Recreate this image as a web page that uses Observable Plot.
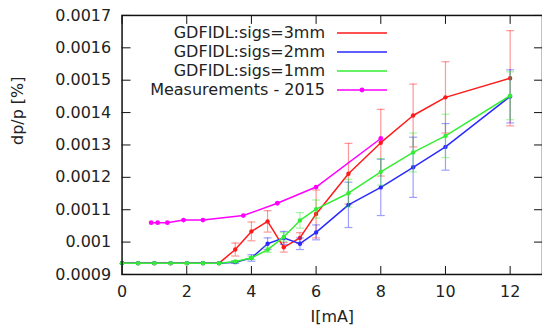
<!DOCTYPE html>
<html>
<head>
<meta charset="utf-8">
<script src="https://cdn.jsdelivr.net/npm/d3@7"></script>
<script src="https://cdn.jsdelivr.net/npm/@observablehq/plot@0.6"></script>
<style>
  html, body { margin: 0; padding: 0; background: #fff; overflow: hidden; }
  #wrap { position: relative; width: 542px; height: 333px; overflow: hidden; font-family: "DejaVu Sans", sans-serif; }
  .leg { position: absolute; font-size: 16px; color: #222; white-space: nowrap; line-height: 20px; }
</style>
</head>
<body>
<div id="wrap"></div>
<script>
// ---- data ----
const currentX = [0, 0.5, 1, 1.5, 2, 2.5, 3, 3.5, 4, 4.5, 5, 5.5, 6, 7, 8, 9, 10, 12];
const sigs3 = [0.000935, 0.000935, 0.000935, 0.000935, 0.000935, 0.000935, 0.000935, 0.000977, 0.001033, 0.001064, 0.000984, 0.001013, 0.001087, 0.001211, 0.001307, 0.001391, 0.001447, 0.001506];
const sigs3Err = [0, 0, 0, 0, 0, 0, 0, 0.00002, 0.000029, 0.000033, 0.000015, 0.000016, 0.000074, 0.000094, 0.000103, 0.000097, 0.00011, 0.000147];
const sigs2 = [0.000935, 0.000935, 0.000935, 0.000935, 0.000935, 0.000935, 0.000935, 0.000938, 0.000951, 0.000995, 0.001013, 0.000995, 0.00103, 0.001115, 0.001169, 0.001231, 0.001294, 0.00145];
const sigs2Err = [0, 0, 0, 0, 0, 0, 0, 0.000004, 0.00001, 0.000018, 0.00002, 0.000018, 0.000023, 0.00007, 0.000087, 0.000093, 0.000072, 0.000082];
const sigs1 = [0.000935, 0.000935, 0.000935, 0.000935, 0.000935, 0.000935, 0.000935, 0.00094, 0.000951, 0.000976, 0.001016, 0.001067, 0.001102, 0.001151, 0.001217, 0.001277, 0.001328, 0.001452];
const sigs1Err = [0, 0, 0, 0, 0, 0, 0, 0.000003, 0.000005, 0.000008, 0.000013, 0.000024, 0.000028, 0.000043, 0.000041, 0.00006, 0.000067, 0.000074];
const measX = [0.9, 1.1, 1.4, 1.9, 2.5, 3.75, 4.8, 6, 8];
const measY = [0.00106, 0.00106, 0.00106, 0.001068, 0.001068, 0.001082, 0.00112, 0.00117, 0.00132];
const xTicks = [0, 2, 4, 6, 8, 10, 12];
const yTicks = [0.0009, 0.001, 0.0011, 0.0012, 0.0013, 0.0014, 0.0015, 0.0016, 0.0017];
const seriesNames = ["GDFIDL:sigs=3mm", "GDFIDL:sigs=2mm", "GDFIDL:sigs=1mm", "Measurements - 2015"];
const seriesColors = ["#ff1a1a", "#2a2aff", "#33ee33", "#ff00ff"];

// ---- build tables ----
const sim = [
  {vals: sigs3, errs: sigs3Err},
  {vals: sigs2, errs: sigs2Err},
  {vals: sigs1, errs: sigs1Err}
].map((s, i) => currentX.map((x, j) => ({x, y: s.vals[j], e: s.errs[j], name: seriesNames[i]})));
const meas = measX.map((x, j) => ({x, y: measY[j], name: seriesNames[3]}));

const capSymbol = {
  draw(context, size) {
    const h = Math.sqrt(size / Math.PI);
    context.moveTo(-h, 0);
    context.lineTo(h, 0);
  }
};

const marks = [];
sim.forEach((rows, i) => {
  const c = seriesColors[i];
  const withErr = rows.filter(d => d.e > 0);
  marks.push(
    Plot.ruleX(withErr, {x: "x", y1: d => d.y - d.e, y2: d => d.y + d.e, stroke: c, strokeOpacity: 0.45, strokeWidth: 1.2}),
    Plot.dot(withErr, {x: "x", y: d => d.y - d.e, symbol: capSymbol, r: 4, stroke: c, strokeOpacity: 0.45, strokeWidth: 1.2, fill: "none"}),
    Plot.dot(withErr, {x: "x", y: d => d.y + d.e, symbol: capSymbol, r: 4, stroke: c, strokeOpacity: 0.45, strokeWidth: 1.2, fill: "none"}),
    Plot.line(rows, {x: "x", y: "y", stroke: c, strokeWidth: 1.5}),
    Plot.dot(rows, {x: "x", y: "y", r: 2.2, fill: c, stroke: "none"})
  );
});
marks.push(
  Plot.line(meas, {x: "x", y: "y", stroke: seriesColors[3], strokeWidth: 1.5}),
  Plot.dot(meas, {x: "x", y: "y", r: 2.4, fill: seriesColors[3], stroke: "none"})
);

const chart = Plot.plot({
  width: 544,
  height: 333,
  marginLeft: 122,
  marginRight: 0,
  marginTop: 15,
  marginBottom: 58,
  style: {fontFamily: "DejaVu Sans", fontSize: "16px", color: "#222", background: "white", overflow: "visible"},
  x: {domain: [0, 13]},
  y: {domain: [0.0009, 0.0017]},
  marks: [
    ...marks,
    Plot.frame({stroke: "#111", strokeWidth: 1.5}),
    Plot.axisX(xTicks, {anchor: "bottom", tickSize: 0, tickPadding: 11, label: null, fontSize: 16, tickFormat: d => String(d)}),
    Plot.axisX(xTicks, {anchor: "bottom", tickSize: -8, tickFormat: () => "", label: null, stroke: "#111"}),
    Plot.axisX(xTicks, {anchor: "top", tickSize: -8, tickFormat: () => "", label: null, stroke: "#111"}),
    Plot.axisY(yTicks, {anchor: "left", tickSize: 0, tickPadding: 11, label: null, fontSize: 16, tickFormat: d => String(d)}),
    Plot.axisY(yTicks, {anchor: "left", tickSize: -9, tickFormat: () => "", label: null, stroke: "#111"}),
    Plot.axisY(yTicks, {anchor: "right", tickSize: -9, tickFormat: () => "", label: null, stroke: "#111"}),
    Plot.text(["I[mA]"], {frameAnchor: "bottom", dy: 48, fontSize: 16}),
    Plot.text(["dp/p [%]"], {frameAnchor: "left", dx: -105, rotate: -90, fontSize: 16})
  ]
});

const wrap = document.getElementById("wrap");
wrap.appendChild(chart);

// ---- legend (inside plot, top-left) ----
seriesNames.forEach((name, i) => {
  const cy = 32.5 + i * 19.3;
  const t = document.createElement("div");
  t.className = "leg";
  t.textContent = name;
  t.style.right = (542 - 325) + "px";
  t.style.top = (cy - 10) + "px";
  wrap.appendChild(t);
  const svg = d3.create("svg").attr("width", 52).attr("height", 10)
    .style("position", "absolute").style("left", "336px").style("top", (cy - 5) + "px");
  svg.append("line").attr("x1", 1).attr("x2", 51).attr("y1", 5).attr("y2", 5)
    .attr("stroke", seriesColors[i]).attr("stroke-width", 1.5);
  if (i === 3) svg.append("circle").attr("cx", 26).attr("cy", 5).attr("r", 2.4).attr("fill", seriesColors[i]);
  wrap.appendChild(svg.node());
});
</script>
</body>
</html>
